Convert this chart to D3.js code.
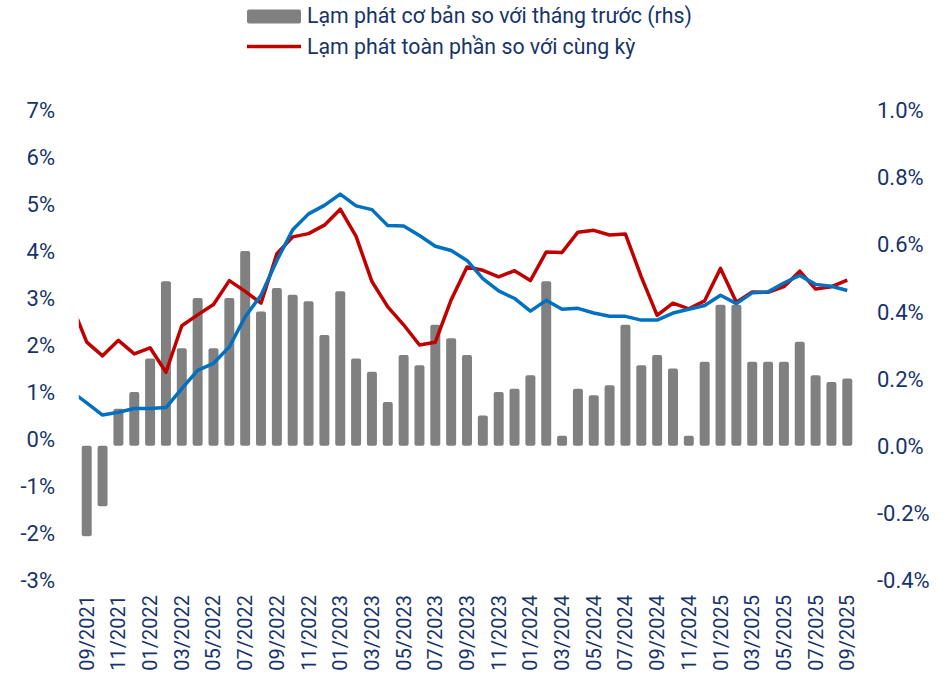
<!DOCTYPE html>
<html>
<head>
<meta charset="utf-8">
<script src="https://cdn.jsdelivr.net/npm/d3@7"></script>
<style>
  body { margin: 0; background: #fff; }
  text { font-family: Roboto, "Noto Sans", sans-serif; fill: #17336b; }
</style>
</head>
<body>
<div id="main"></div>
<script>
// months shown as bars (09/2021 .. 09/2025)
var months = ['09/2021','10/2021','11/2021','12/2021',
  '01/2022','02/2022','03/2022','04/2022','05/2022','06/2022','07/2022','08/2022','09/2022','10/2022','11/2022','12/2022',
  '01/2023','02/2023','03/2023','04/2023','05/2023','06/2023','07/2023','08/2023','09/2023','10/2023','11/2023','12/2023',
  '01/2024','02/2024','03/2024','04/2024','05/2024','06/2024','07/2024','08/2024','09/2024','10/2024','11/2024','12/2024',
  '01/2025','02/2025','03/2025','04/2025','05/2025','06/2025','07/2025','08/2025','09/2025'];

// lines start one month earlier (08/2021), cut at the plot edge
var lineMonths = ['08/2021'].concat(months);

// core inflation, month on month (rhs, %)
var coreMoM = [-0.27, -0.18, 0.11, 0.16,
  0.26, 0.49, 0.29, 0.44, 0.29, 0.44, 0.58, 0.40, 0.47, 0.45, 0.43, 0.33,
  0.46, 0.26, 0.22, 0.13, 0.27, 0.24, 0.36, 0.32, 0.27, 0.09, 0.16, 0.17,
  0.21, 0.49, 0.03, 0.17, 0.15, 0.18, 0.36, 0.24, 0.27, 0.23, 0.03, 0.25,
  0.42, 0.42, 0.25, 0.25, 0.25, 0.31, 0.21, 0.19, 0.20];

// headline inflation, year on year (lhs, %)
var headlineYoY = [2.90, 2.06, 1.77, 2.10, 1.81,
  1.94, 1.42, 2.41, 2.64, 2.86, 3.37, 3.14, 2.89, 3.94, 4.30, 4.37, 4.55,
  4.89, 4.31, 3.35, 2.81, 2.43, 2.00, 2.06, 2.96, 3.66, 3.59, 3.45, 3.58,
  3.37, 3.98, 3.97, 4.40, 4.44, 4.34, 4.36, 3.45, 2.63, 2.89, 2.77, 2.94,
  3.63, 2.91, 3.13, 3.12, 3.24, 3.57, 3.19, 3.24, 3.38];

// core inflation, year on year (lhs, %)
var coreYoY = [1.02, 0.77, 0.51, 0.57, 0.65,
  0.65, 0.67, 1.07, 1.46, 1.61, 1.96, 2.60, 3.06, 3.80, 4.45, 4.79, 4.97,
  5.21, 4.96, 4.88, 4.54, 4.53, 4.33, 4.10, 4.01, 3.80, 3.41, 3.15, 2.99,
  2.72, 2.95, 2.76, 2.78, 2.68, 2.61, 2.61, 2.53, 2.53, 2.68, 2.76, 2.84,
  3.06, 2.88, 3.11, 3.13, 3.32, 3.48, 3.29, 3.25, 3.16];

var leftTicks = [-3, -2, -1, 0, 1, 2, 3, 4, 5, 6, 7];
var rightTicks = [-0.4, -0.2, 0, 0.2, 0.4, 0.6, 0.8, 1.0];

var legendLabels = ['Lạm phát cơ bản so với tháng trước (rhs)', 'Lạm phát toàn phần so với cùng kỳ'];

createVisualization();

function createVisualization() {
  var width = 949, height = 684;
  var left = 78.8, right = 855.2, top = 110, bottom = 580;

  var svg = d3.select('#main')
    .append('svg')
    .attr('width', width)
    .attr('height', height);

  var x = d3.scaleBand()
    .domain(months)
    .range([left, right])
    .paddingInner(0.37)
    .paddingOuter(0.185);

  // same span, but indexed so the 08/2021 point falls left of the plot
  var xLine = d3.scaleLinear()
    .domain([-0.5, lineMonths.length - 1.5])
    .range([left, right]);

  var yLeft = d3.scaleLinear().domain([-3, 7]).range([bottom, top]);
  var yRight = d3.scaleLinear().domain([-0.4, 1.0]).range([bottom, top]);

  svg.append('clipPath')
    .attr('id', 'plot')
    .append('rect')
    .attr('x', left)
    .attr('y', 0)
    .attr('width', right - left)
    .attr('height', height);

  // bars
  svg.append('g')
    .selectAll('rect')
    .data(coreMoM)
    .enter()
    .append('rect')
    .attr('x', function(d, i) { return x(months[i]); })
    .attr('y', function(d) { return Math.min(yRight(d), yRight(0)); })
    .attr('width', x.bandwidth())
    .attr('height', function(d) { return Math.abs(yRight(d) - yRight(0)); })
    .attr('rx', 2)
    .attr('fill', '#808080');

  var line = d3.line()
    .x(function(d, i) { return xLine(i - 1); })
    .y(function(d) { return yLeft(d); });

  var lines = svg.append('g').attr('clip-path', 'url(#plot)');

  lines.append('path')
    .datum(headlineYoY)
    .attr('d', line)
    .attr('fill', 'none')
    .attr('stroke', '#c00000')
    .attr('stroke-width', 3.5)
    .attr('stroke-linejoin', 'round');

  lines.append('path')
    .datum(coreYoY)
    .attr('d', line)
    .attr('fill', 'none')
    .attr('stroke', '#0070c0')
    .attr('stroke-width', 3.5)
    .attr('stroke-linejoin', 'round');

  // left axis
  var axL = svg.append('g')
    .attr('transform', 'translate(55,0)')
    .call(d3.axisLeft(yLeft).tickValues(leftTicks).tickSize(0).tickPadding(0)
      .tickFormat(function(d) { return d + '%'; }));
  axL.select('.domain').remove();
  axL.selectAll('text').attr('font-size', 22).attr('dy', '0.35em');

  // right axis
  var axR = svg.append('g')
    .attr('transform', 'translate(877,0)')
    .call(d3.axisRight(yRight).tickValues(rightTicks).tickSize(0).tickPadding(0)
      .tickFormat(function(d) { return d.toFixed(1) + '%'; }));
  axR.select('.domain').remove();
  axR.selectAll('text').attr('font-size', 22).attr('dy', '0.35em');

  // month labels every two months
  svg.append('g')
    .selectAll('text')
    .data(months.filter(function(d, i) { return i % 2 === 0; }))
    .enter()
    .append('text')
    .attr('transform', function(d) {
      return 'translate(' + (x(d) + x.bandwidth() / 2 + 7) + ',595) rotate(-90)';
    })
    .attr('text-anchor', 'end')
    .attr('font-size', 20)
    .text(function(d) { return d; });

  // legend
  var legend = svg.append('g');
  legend.append('rect')
    .attr('x', 247).attr('y', 9.5)
    .attr('width', 54).attr('height', 14)
    .attr('rx', 2)
    .attr('fill', '#808080');
  legend.append('line')
    .attr('x1', 247).attr('x2', 301)
    .attr('y1', 46.5).attr('y2', 46.5)
    .attr('stroke', '#c00000')
    .attr('stroke-width', 3.5);
  legend.selectAll('text')
    .data(legendLabels)
    .enter()
    .append('text')
    .attr('x', 307)
    .attr('y', function(d, i) { return 23 + i * 30.5; })
    .attr('font-size', 21.3)
    .text(function(d) { return d; });
}
</script>
</body>
</html>
